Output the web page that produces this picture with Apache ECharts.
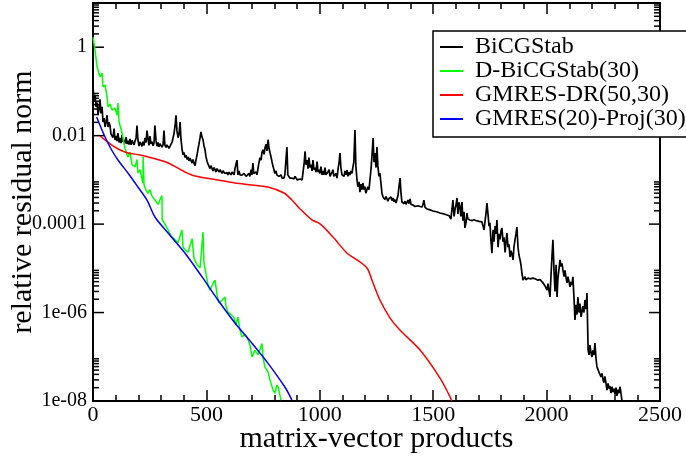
<!DOCTYPE html>
<html>
<head>
<meta charset="utf-8">
<script src="https://cdn.jsdelivr.net/npm/echarts@6/dist/echarts.min.js"></script>
<style>
html,body{margin:0;padding:0;background:#fff;}
#chart{width:686px;height:462px;}
</style>
</head>
<body>
<div id="chart"></div>
<script>
// ---- data (x = matrix-vector products, y = relative residual norm) ----
const seriesNames = ['BiCGStab', 'D-BiCGStab(30)', 'GMRES-DR(50,30)', 'GMRES(20)-Proj(30)'];

const bicgstab = [[0,0.14],[4,0.06],[9,0.084],[13,0.045],[18,0.056],[22,0.03],[26,0.038],[31,0.066],[35,0.032],[40,0.045],[44,0.0204],[49,0.025],[53,0.0157],[58,0.021],[62,0.029],[66,0.0157],[70,0.02],[75,0.017],[79,0.011],[84,0.0121],[88,0.009],[93,0.0145],[97,0.008],[101,0.0098],[106,0.0075],[110,0.0115],[115,0.007],[119,0.0089],[124,0.0068],[128,0.0104],[132,0.0072],[137,0.0081],[141,0.0066],[146,0.0093],[150,0.0065],[154,0.0077],[159,0.0063],[163,0.0085],[168,0.0062],[172,0.0078],[176,0.0073],[181,0.0062],[185,0.0075],[190,0.0089],[194,0.017],[198,0.0081],[203,0.0058],[207,0.0072],[212,0.0064],[216,0.0057],[220,0.0073],[225,0.006],[229,0.0089],[234,0.007],[238,0.013],[243,0.0081],[247,0.006],[251,0.0098],[256,0.0065],[260,0.0073],[265,0.0059],[269,0.0068],[273,0.017],[278,0.0077],[282,0.0058],[287,0.007],[291,0.0056],[295,0.0066],[300,0.0064],[304,0.0055],[309,0.0063],[313,0.013],[317,0.0061],[322,0.0054],[326,0.0062],[331,0.0067],[335,0.0052],[340,0.0058],[344,0.0061],[349,0.0072],[353,0.0089],[357,0.011],[362,0.017],[366,0.029],[370,0.013],[375,0.009],[379,0.0104],[384,0.0204],[388,0.0081],[393,0.0048],[397,0.0037],[401,0.0042],[406,0.0032],[410,0.0036],[415,0.0029],[419,0.0033],[423,0.0027],[428,0.0031],[432,0.0028],[437,0.0024],[441,0.0029],[445,0.0024],[450,0.0021],[454,0.0028],[459,0.0037],[463,0.005],[467,0.0064],[472,0.009],[476,0.0121],[480,0.0095],[485,0.0081],[489,0.006],[494,0.0048],[498,0.0034],[503,0.0026],[507,0.0023],[511,0.0022],[516,0.0018],[520,0.0021],[525,0.0019],[529,0.0016],[534,0.0019],[538,0.0017],[542,0.0015],[547,0.0018],[551,0.0019],[556,0.0015],[560,0.0017],[564,0.0016],[569,0.0014],[573,0.0016],[578,0.0017],[582,0.0014],[587,0.0015],[591,0.00146],[595,0.0013],[600,0.0015],[604,0.0016],[608,0.0013],[613,0.0015],[617,0.0016],[622,0.0013],[626,0.0018],[630,0.0022],[635,0.0028],[639,0.0013],[644,0.0016],[648,0.0013],[652,0.0014],[657,0.00128],[661,0.0012],[666,0.0014],[670,0.00135],[675,0.0012],[679,0.0013],[683,0.0012],[688,0.0014],[692,0.0012],[697,0.0017],[701,0.0013],[705,0.0024],[709,0.0014],[714,0.00128],[719,0.0015],[723,0.0013],[728,0.0019],[732,0.0025],[736,0.0032],[741,0.0028],[745,0.0042],[750,0.0048],[754,0.0038],[759,0.0055],[763,0.0064],[767,0.0045],[772,0.0081],[776,0.0052],[780,0.0048],[785,0.0033],[789,0.0026],[794,0.002],[798,0.0017],[802,0.0014],[807,0.0016],[811,0.00128],[816,0.0014],[820,0.0012],[824,0.0011],[829,0.0013],[833,0.0011],[838,0.0012],[842,0.0011],[846,0.0013],[851,0.00128],[855,0.0055],[859,0.0013],[864,0.0012],[868,0.0011],[873,0.0012],[877,0.0011],[882,0.0012],[886,0.00105],[891,0.0012],[895,0.0011],[900,0.001],[904,0.0011],[908,0.00105],[913,0.00105],[917,0.0011],[922,0.001],[926,0.0011],[931,0.0024],[935,0.0044],[939,0.0022],[944,0.0028],[948,0.0018],[952,0.0032],[957,0.0019],[961,0.0022],[966,0.0016],[970,0.0028],[974,0.0017],[979,0.0019],[983,0.0015],[988,0.0026],[992,0.0015],[996,0.0017],[1001,0.0014],[1005,0.002],[1010,0.0013],[1014,0.0016],[1018,0.0013],[1023,0.0019],[1027,0.0013],[1032,0.00128],[1036,0.0015],[1041,0.0017],[1045,0.0012],[1049,0.00128],[1054,0.0015],[1058,0.0017],[1062,0.0012],[1067,0.00128],[1071,0.0014],[1076,0.0011],[1080,0.0017],[1085,0.0025],[1089,0.00406],[1093,0.0019],[1098,0.0013],[1102,0.00143],[1107,0.0012],[1111,0.0016],[1116,0.0013],[1120,0.00167],[1124,0.0012],[1129,0.0015],[1133,0.00129],[1137,0.0016],[1142,0.0014],[1146,0.00196],[1150,0.0025],[1155,0.0134],[1159,0.0021],[1164,0.000995],[1168,0.0007],[1173,0.0009],[1177,0.00053],[1181,0.0008],[1186,0.0006],[1190,0.00085],[1195,0.0006],[1199,0.0007],[1203,0.0005],[1208,0.000506],[1212,0.0007],[1217,0.0006],[1221,0.000995],[1226,0.0018],[1230,0.0035],[1235,0.00885],[1239,0.0025],[1243,0.00406],[1248,0.0019],[1252,0.00554],[1256,0.0021],[1261,0.0012],[1265,0.00143],[1270,0.0008],[1274,0.0005],[1279,0.00041],[1283,0.00045],[1287,0.00036],[1292,0.00042],[1296,0.00039],[1300,0.00033],[1305,0.00038],[1309,0.00035],[1314,0.00041],[1318,0.00034],[1323,0.00039],[1327,0.00032],[1331,0.00036],[1336,0.0003],[1340,0.000316],[1345,0.00045],[1349,0.0007],[1354,0.0011],[1358,0.0005],[1362,0.000316],[1367,0.00034],[1371,0.00029],[1376,0.00033],[1380,0.00028],[1384,0.0003],[1389,0.00035],[1393,0.00029],[1398,0.00037],[1402,0.00028],[1406,0.00031],[1411,0.00027],[1415,0.00029],[1420,0.00025],[1424,0.00027],[1428,0.000244],[1433,0.00026],[1437,0.00024],[1442,0.00025],[1446,0.00023],[1451,0.000244],[1455,0.00028],[1459,0.00035],[1464,0.00024],[1468,0.00023],[1473,0.00022],[1486,0.00021],[1499,0.000198],[1515,0.00019],[1530,0.000178],[1546,0.00017],[1561,0.000161],[1570,0.000155],[1578,0.00013],[1583,0.00022],[1587,0.00035],[1592,0.00015],[1596,0.00021],[1601,0.00028],[1605,0.00039],[1609,0.00017],[1614,0.00031],[1618,0.000244],[1622,0.00015],[1627,0.000316],[1631,0.00012],[1636,0.00019],[1640,0.000082],[1645,0.00011],[1649,0.000178],[1653,0.00013],[1658,0.00014],[1662,0.000124],[1671,0.00012],[1680,0.000125],[1693,0.000118],[1702,0.000115],[1715,0.000112],[1720,0.00011],[1724,0.000074],[1728,0.00011],[1733,0.00018],[1737,0.0003],[1742,0.00016],[1746,0.00009],[1750,0.000107],[1755,0.00004],[1759,0.000022],[1764,0.000074],[1768,0.00004],[1773,0.00009],[1777,0.00006],[1781,0.000124],[1786,0.00003],[1790,0.00006],[1795,0.000045],[1799,0.00007],[1803,0.000082],[1808,0.00004],[1812,0.00005],[1817,0.000023],[1821,0.00004],[1825,0.000063],[1830,0.00003],[1834,0.000035],[1839,0.000018],[1843,0.000025],[1848,0.00002],[1852,0.0000155],[1856,0.00003],[1861,0.000045],[1865,0.00006],[1869,0.000086],[1874,0.00003],[1878,0.00002],[1883,0.0000155],[1887,0.000012],[1891,0.000008],[1896,0.0000054],[1905,0.0000065],[1909,0.0000055],[1918,0.000006],[1927,0.0000058],[1940,0.000006],[1949,0.0000058],[1962,0.0000054],[1971,0.0000056],[1984,0.0000047],[1993,0.000004],[2002,0.0000032],[2006,0.0000045],[2011,0.000003],[2015,0.00000225],[2020,0.000008],[2024,0.00002],[2028,0.000044],[2033,0.000008],[2037,0.000003],[2042,0.000012],[2046,0.00000225],[2050,0.000006],[2055,0.00001],[2059,0.0000155],[2064,0.000011],[2068,0.000013],[2072,0.0000092],[2077,0.0000065],[2081,0.000009],[2086,0.000006],[2090,0.0000047],[2094,0.0000065],[2099,0.000005],[2103,0.0000038],[2108,0.000005],[2112,0.0000042],[2116,0.0000064],[2121,0.000002],[2125,6.8e-7],[2130,1.5e-6],[2134,9e-7],[2138,2.25e-6],[2143,1e-6],[2147,1.6e-6],[2152,8e-7],[2156,7.9e-7],[2160,1.4e-6],[2165,1e-6],[2169,1.92e-6],[2174,1.2e-6],[2178,2.77e-6],[2183,1.42e-7],[2187,1.1e-7],[2191,1.85e-7],[2196,1.2e-7],[2200,9.9e-8],[2204,1.4e-7],[2209,1.1e-7],[2213,2.05e-7],[2218,9e-8],[2222,5.9e-8],[2227,6.5e-8],[2231,4.5e-8],[2235,4.3e-8],[2240,3.5e-8],[2244,4.2e-8],[2249,3.0e-8],[2253,2.6e-8],[2257,3.6e-8],[2262,2.5e-8],[2266,1.77e-8],[2271,2.5e-8],[2275,1.9e-8],[2279,2.2e-8],[2284,1.5e-8],[2288,2.1e-8],[2293,1.6e-8],[2297,1.9e-8],[2302,1.4e-8],[2306,2.0e-8],[2310,1.3e-8],[2315,1.8e-8],[2319,1.5e-8],[2324,2.1e-8],[2328,1.9e-8],[2332,1.05e-8]];

const dBicgstab = [[0,1.7],[9,0.86],[18,0.357],[31,0.212],[40,0.26],[44,0.126],[53,0.14],[62,0.075],[66,0.0446],[75,0.052],[84,0.038],[97,0.042],[106,0.029],[110,0.055],[115,0.0204],[128,0.0115],[141,0.0052],[154,0.0033],[163,0.0042],[172,0.0022],[185,0.00196],[194,0.0029],[198,0.00143],[207,0.0017],[220,0.00085],[221,0.0033],[225,0.00077],[234,0.00058],[243,0.0005],[251,0.0006],[260,0.00043],[273,0.00035],[287,0.00028],[295,0.00035],[304,0.00044],[305,0.000124],[317,0.0001],[331,0.000074],[344,0.000054],[362,0.000044],[375,0.000038],[392,0.000074],[397,0.00003],[406,0.000026],[419,0.000023],[437,0.000047],[445,0.000017],[459,0.0000119],[472,0.0000102],[485,0.000066],[489,0.000014],[498,7.45e-6],[507,4.2e-6],[516,3.2e-6],[529,4.6e-6],[538,5.4e-6],[547,2.5e-6],[555,1.65e-6],[569,1.9e-6],[582,2.25e-6],[586,1.4e-6],[595,1.03e-6],[608,9.1e-7],[622,7.5e-7],[630,5.2e-7],[639,7.9e-7],[648,4.0e-7],[657,2.8e-7],[670,3.2e-7],[683,2.5e-7],[692,1.85e-7],[701,9.9e-8],[714,1.4e-7],[728,1.1e-7],[745,2.0e-7],[750,9.4e-8],[758,5.9e-8],[772,4.5e-8],[780,3.0e-8],[794,1.77e-8],[802,1.5e-8],[811,2.3e-8],[816,2.07e-8],[824,1.37e-8],[829,1.05e-8]];

const gmresDr = [[31,0.00984],[53,0.008],[88,0.00585],[119,0.00474],[154,0.00406],[207,0.00366],[260,0.00313],[331,0.00241],[406,0.00151],[450,0.00122],[551,0.000995],[626,0.00085],[700,0.00077],[771,0.00069],[842,0.000506],[877,0.00035],[913,0.00022],[965,0.000125],[1001,0.000101],[1058,0.000051],[1120,0.000022],[1164,0.0000155],[1208,0.0000102],[1230,5.4e-6],[1265,1.92e-6],[1310,7.5e-7],[1354,4.0e-7],[1442,1.42e-7],[1530,3.3e-8],[1570,1.37e-8],[1582,1.0e-8]];

const gmresProj = [[16,0.0265],[53,0.0093],[82,0.00474],[110,0.00282],[154,0.00143],[198,0.00069],[238,0.00035],[273,0.000145],[331,0.000063],[406,0.000022],[481,6.4e-6],[551,1.92e-6],[626,5.8e-7],[700,2.05e-7],[771,7.2e-8],[846,2.07e-8],[877,1.05e-8]];

// ---- axes / ticks ----
const xMin = 0, xMax = 2500, xInterval = 500;
const yMin = 1e-8, yMax = 10;
const yMajorTicks = [1e-8, 1e-6, 1e-4, 1e-2, 1];
const yTickLabels = {'-8':'1e-08','-6':'1e-06','-4':'0.0001','-2':'0.01','0':'1'};
const yTickValues = yMajorTicks.concat(...yMajorTicks.map(m => [2,3,4,5,6,7,8,9].map(k => k * m)));

const FONT = 'Liberation Serif';
const chart = echarts.init(document.getElementById('chart'), null, {renderer:'canvas'});

const xBase = {
  type:'value', min:xMin, max:xMax, interval:xInterval,
  axisLine:{show:false},
  splitLine:{show:false},
  axisTick:{show:true, inside:true, length:11, lineStyle:{color:'#000', width:1.5}},
  minorTick:{show:true, splitNumber:5, length:6, lineStyle:{color:'#000', width:1.5}},
  minorSplitLine:{show:false}
};

const option = {
  animation:false,
  backgroundColor:'#fff',
  grid:{left:93, right:26, top:3, bottom:61, containLabel:false, outerBoundsMode:'none',
        show:true, borderColor:'#000', borderWidth:2, backgroundColor:'transparent'},
  legend:{
    data:seriesNames, orient:'vertical', left:433, top:31,
    backgroundColor:'#fff', borderColor:'#000', borderWidth:1.5, borderRadius:0,
    padding:[4,30,6,7], itemGap:0, itemWidth:23, itemHeight:2, icon:'rect',
    selectedMode:false,
    textStyle:{fontFamily:FONT, fontSize:24, color:'#000', lineHeight:24, padding:[0,0,0,7]}
  },
  xAxis:[
    Object.assign({}, xBase, {
      position:'bottom',
      axisLabel:{show:true, margin:3, fontFamily:FONT, fontSize:22, color:'#000',
                 formatter:function(v){ return String(v); }},
      name:'matrix-vector products', nameLocation:'middle', nameGap:23, nameMoveOverlap:false,
      nameTextStyle:{fontFamily:FONT, fontSize:30, color:'#000'}
    }),
    Object.assign({}, xBase, {position:'top', axisLabel:{show:false}})
  ],
  yAxis:[{
    type:'log', logBase:10, min:yMin, max:yMax, interval:2,
    axisLine:{show:false}, axisTick:{show:false}, splitLine:{show:false},
    axisLabel:{
      show:true, margin:6, fontFamily:FONT, fontSize:20, color:'#000',
      formatter:function(v){
        const e = Math.round(Math.log10(v));
        if (Math.abs(Math.log10(v) - e) > 1e-6) return '';
        return yTickLabels[String(e)] || '';
      }
    },
    name:'relative residual norm', nameLocation:'middle', nameGap:55, nameMoveOverlap:false,
    nameTextStyle:{fontFamily:FONT, fontSize:30, color:'#000'}
  }],
  series:[
    {
      type:'custom', coordinateSystem:'cartesian2d', silent:true, z:3,
      data:yTickValues.map(v => [xMin, v]),
      renderItem:function(params, api){
        const v = api.value(1);
        const e = Math.log10(v);
        const major = Math.abs(e - Math.round(e)) < 1e-6;
        const len = major ? 11 : 6;
        const pL = api.coord([xMin, v]);
        const pR = api.coord([xMax, v]);
        const st = {stroke:'#000', lineWidth:1.5};
        return {type:'group', children:[
          {type:'line', shape:{x1:pL[0], y1:pL[1], x2:pL[0]+len, y2:pL[1]}, style:st},
          {type:'line', shape:{x1:pR[0], y1:pR[1], x2:pR[0]-len, y2:pR[1]}, style:st}
        ]};
      }
    },
    {name:seriesNames[0], type:'line', data:bicgstab, symbol:'none', color:'#000000', lineStyle:{width:1.7, color:'#000000'}},
    {name:seriesNames[1], type:'line', data:dBicgstab, symbol:'none', color:'#00ff00', lineStyle:{width:1.5, color:'#00ff00'}},
    {name:seriesNames[2], type:'line', data:gmresDr, symbol:'none', smooth:0.3, color:'#ff0000', lineStyle:{width:1.5, color:'#ff0000'}},
    {name:seriesNames[3], type:'line', data:gmresProj, symbol:'none', smooth:0.3, color:'#0000ff', lineStyle:{width:1.5, color:'#0000ff'}}
  ]
};
chart.setOption(option);
</script>
</body>
</html>
